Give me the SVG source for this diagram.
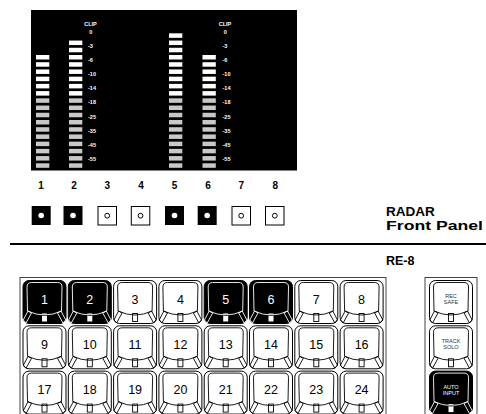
<svg xmlns="http://www.w3.org/2000/svg" xmlns:xlink="http://www.w3.org/1999/xlink" width="486" height="414" viewBox="0 0 486 414">
<style>
.seg-w{fill:#ffffff}
.seg-g{fill:#c8c8c8}
.ml{font-family:"Liberation Sans",Arial,sans-serif;font-size:5.5px;font-weight:bold;fill:#ffffff}
.num{font-family:"Liberation Sans",Arial,sans-serif;font-size:10px;font-weight:bold;fill:#000;text-anchor:middle}
.title{font-family:"Liberation Sans",Arial,sans-serif;font-size:13.5px;font-weight:bold;fill:#000}
.kl{font-family:"Liberation Sans",Arial,sans-serif;font-size:12.5px;text-anchor:middle}
.kl-off{fill:#000}
.kl-on{fill:#fff}
.sl{font-family:"Liberation Sans",Arial,sans-serif;font-size:5.5px;text-anchor:middle}
.frame{fill:none;stroke:#444;stroke-width:1}
</style>
<defs>
<g id="keyOff">
<rect x="0.5" y="0.5" width="43" height="43" rx="6" fill="#fff" stroke="#000" stroke-width="1"/>
<path d="M5,31 L4.5,7 Q4.5,2.5 9,2.5 L35,2.5 Q39.5,2.5 39.5,7 L39,31 Q22,39 5,31 Z" fill="none" stroke="#000" stroke-width="0.9"/>
<path d="M5.5,31 L9,33 L3.5,43 L0.8,40 Z M38.5,31 L35,33 L40.5,43 L43.2,40 Z" fill="none" stroke="#000" stroke-width="0.9"/>
<rect x="19.5" y="33.5" width="5" height="8" fill="none" stroke="#000" stroke-width="0.9"/>
</g>
<g id="keyOn">
<rect x="0.5" y="0.5" width="43" height="43" rx="6" fill="#000" stroke="#000" stroke-width="1"/>
<path d="M5,31 L4.5,7 Q4.5,2.5 9,2.5 L35,2.5 Q39.5,2.5 39.5,7 L39,31 Q22,39 5,31 Z" fill="none" stroke="#fff" stroke-width="0.9"/>
<path d="M5.5,31 L9,33 L3.5,43 L0.8,40 Z M38.5,31 L35,33 L40.5,43 L43.2,40 Z" fill="none" stroke="#fff" stroke-width="0.9"/>
<rect x="19.5" y="33.5" width="5" height="8" fill="#fff"/>
<line x1="19.5" y1="35.3" x2="24.5" y2="35.3" stroke="#000" stroke-width="0.9"/>
</g>
<g id="segs16">
<rect class="seg-g" x="0" y="163.3" width="13.3" height="4.5"/>
<rect class="seg-g" x="0" y="156.08" width="13.3" height="4.5"/>
<rect class="seg-g" x="0" y="148.86" width="13.3" height="4.5"/>
<rect class="seg-g" x="0" y="141.64" width="13.3" height="4.5"/>
<rect class="seg-g" x="0" y="134.42" width="13.3" height="4.5"/>
<rect class="seg-g" x="0" y="127.2" width="13.3" height="4.5"/>
<rect class="seg-g" x="0" y="119.98" width="13.3" height="4.5"/>
<rect class="seg-g" x="0" y="112.76" width="13.3" height="4.5"/>
<rect class="seg-g" x="0" y="105.54" width="13.3" height="4.5"/>
<rect class="seg-g" x="0" y="98.32" width="13.3" height="4.5"/>
<rect class="seg-w" x="0" y="91.1" width="13.3" height="4.5"/>
<rect class="seg-w" x="0" y="83.88" width="13.3" height="4.5"/>
<rect class="seg-w" x="0" y="76.66" width="13.3" height="4.5"/>
<rect class="seg-w" x="0" y="69.44" width="13.3" height="4.5"/>
<rect class="seg-w" x="0" y="62.22" width="13.3" height="4.5"/>
<rect class="seg-w" x="0" y="55" width="13.3" height="4.5"/>
</g>
<g id="scale">
<text class="ml" x="2.5" y="25.9" text-anchor="middle">CLIP</text>
<text class="ml" x="2.7" y="33.6" text-anchor="middle">0</text>
<text class="ml" x="0" y="47.6">-3</text>
<text class="ml" x="0" y="61.9">-6</text>
<text class="ml" x="0" y="75.9">-10</text>
<text class="ml" x="0" y="90.2">-14</text>
<text class="ml" x="0" y="104.2">-18</text>
<text class="ml" x="0" y="118.6">-25</text>
<text class="ml" x="0" y="132.6">-35</text>
<text class="ml" x="0" y="146.9">-45</text>
<text class="ml" x="0" y="160.9">-55</text>
</g>
</defs>

<g id="meter-panel">
<rect x="31" y="10" width="266" height="160.5" fill="#000"/>
<g id="meter-1"><use xlink:href="#segs16" x="36"/></g>
<g id="meter-2"><use xlink:href="#segs16" x="69"/>
<rect class="seg-w" x="69" y="47.78" width="13.3" height="4.5"/>
<rect class="seg-w" x="69" y="40.56" width="13.3" height="4.5"/></g>
<g id="scale-a"><use xlink:href="#scale" x="88"/></g>
<g id="meter-5"><use xlink:href="#segs16" x="169"/>
<rect class="seg-w" x="169" y="47.78" width="13.3" height="4.5"/>
<rect class="seg-w" x="169" y="40.56" width="13.3" height="4.5"/>
<rect class="seg-w" x="169" y="33.34" width="13.3" height="4.5"/></g>
<g id="meter-6"><use xlink:href="#segs16" x="202.5"/></g>
<g id="scale-b"><use xlink:href="#scale" x="222.5"/></g>
</g>

<g id="channel-numbers">
<text class="num" x="41" y="189">1</text>
<text class="num" x="74" y="189">2</text>
<text class="num" x="107.3" y="189">3</text>
<text class="num" x="141" y="189">4</text>
<text class="num" x="174.5" y="189">5</text>
<text class="num" x="208" y="189">6</text>
<text class="num" x="241.3" y="189">7</text>
<text class="num" x="275.3" y="189">8</text>
</g>

<g id="leds">
<g id="led-1"><rect x="31.7" y="206" width="19" height="19" fill="#000"/><circle cx="41.2" cy="215.5" r="2.8" fill="#fff"/></g>
<g id="led-2"><rect x="63.5" y="206" width="19" height="19" fill="#000"/><circle cx="73" cy="215.5" r="2.8" fill="#fff"/></g>
<g id="led-3"><rect x="98" y="206.5" width="18.5" height="18.5" fill="#fff" stroke="#000"/><circle cx="107.2" cy="215.7" r="2.4" fill="none" stroke="#000"/></g>
<g id="led-4"><rect x="131.3" y="206.5" width="18.5" height="18.5" fill="#fff" stroke="#000"/><circle cx="140.5" cy="215.7" r="2.4" fill="none" stroke="#000"/></g>
<g id="led-5"><rect x="165" y="206" width="19" height="19" fill="#000"/><circle cx="174.5" cy="215.5" r="2.8" fill="#fff"/></g>
<g id="led-6"><rect x="197.7" y="206" width="19" height="19" fill="#000"/><circle cx="207.2" cy="215.5" r="2.8" fill="#fff"/></g>
<g id="led-7"><rect x="232" y="206.5" width="18.5" height="18.5" fill="#fff" stroke="#000"/><circle cx="241.2" cy="215.7" r="2.4" fill="none" stroke="#000"/></g>
<g id="led-8"><rect x="265.5" y="206.5" width="18.5" height="18.5" fill="#fff" stroke="#000"/><circle cx="274.8" cy="215.7" r="2.4" fill="none" stroke="#000"/></g>
</g>

<g id="titles">
<text class="title" x="386" y="215.5">RADAR</text>
<text class="title" x="386" y="229.5" textLength="97" lengthAdjust="spacingAndGlyphs">Front Panel</text>
<line x1="10" y1="244" x2="486" y2="244" stroke="#000" stroke-width="2"/>
<text class="title" x="386" y="265" style="font-size:12.5px">RE-8</text>
</g>

<g id="keypad">
<rect class="frame" x="20" y="277.5" width="366" height="140"/>
<g id="k1"><use xlink:href="#keyOn" x="22.5" y="280"/><text class="kl kl-on" x="44.5" y="303.5">1</text></g>
<g id="k2"><use xlink:href="#keyOn" x="67.8" y="280"/><text class="kl kl-on" x="89.8" y="303.5">2</text></g>
<g id="k3"><use xlink:href="#keyOff" x="113.1" y="280"/><text class="kl kl-off" x="135.1" y="303.5">3</text></g>
<g id="k4"><use xlink:href="#keyOff" x="158.4" y="280"/><text class="kl kl-off" x="180.4" y="303.5">4</text></g>
<g id="k5"><use xlink:href="#keyOn" x="203.7" y="280"/><text class="kl kl-on" x="225.7" y="303.5">5</text></g>
<g id="k6"><use xlink:href="#keyOn" x="249" y="280"/><text class="kl kl-on" x="271" y="303.5">6</text></g>
<g id="k7"><use xlink:href="#keyOff" x="294.3" y="280"/><text class="kl kl-off" x="316.3" y="303.5">7</text></g>
<g id="k8"><use xlink:href="#keyOff" x="339.6" y="280"/><text class="kl kl-off" x="361.6" y="303.5">8</text></g>
<g id="k9"><use xlink:href="#keyOff" x="22.5" y="325.3"/><text class="kl kl-off" x="44.5" y="348.8">9</text></g>
<g id="k10"><use xlink:href="#keyOff" x="67.8" y="325.3"/><text class="kl kl-off" x="89.8" y="348.8">10</text></g>
<g id="k11"><use xlink:href="#keyOff" x="113.1" y="325.3"/><text class="kl kl-off" x="135.1" y="348.8">11</text></g>
<g id="k12"><use xlink:href="#keyOff" x="158.4" y="325.3"/><text class="kl kl-off" x="180.4" y="348.8">12</text></g>
<g id="k13"><use xlink:href="#keyOff" x="203.7" y="325.3"/><text class="kl kl-off" x="225.7" y="348.8">13</text></g>
<g id="k14"><use xlink:href="#keyOff" x="249" y="325.3"/><text class="kl kl-off" x="271" y="348.8">14</text></g>
<g id="k15"><use xlink:href="#keyOff" x="294.3" y="325.3"/><text class="kl kl-off" x="316.3" y="348.8">15</text></g>
<g id="k16"><use xlink:href="#keyOff" x="339.6" y="325.3"/><text class="kl kl-off" x="361.6" y="348.8">16</text></g>
<g id="k17"><use xlink:href="#keyOff" x="22.5" y="370.6"/><text class="kl kl-off" x="44.5" y="394.1">17</text></g>
<g id="k18"><use xlink:href="#keyOff" x="67.8" y="370.6"/><text class="kl kl-off" x="89.8" y="394.1">18</text></g>
<g id="k19"><use xlink:href="#keyOff" x="113.1" y="370.6"/><text class="kl kl-off" x="135.1" y="394.1">19</text></g>
<g id="k20"><use xlink:href="#keyOff" x="158.4" y="370.6"/><text class="kl kl-off" x="180.4" y="394.1">20</text></g>
<g id="k21"><use xlink:href="#keyOff" x="203.7" y="370.6"/><text class="kl kl-off" x="225.7" y="394.1">21</text></g>
<g id="k22"><use xlink:href="#keyOff" x="249" y="370.6"/><text class="kl kl-off" x="271" y="394.1">22</text></g>
<g id="k23"><use xlink:href="#keyOff" x="294.3" y="370.6"/><text class="kl kl-off" x="316.3" y="394.1">23</text></g>
<g id="k24"><use xlink:href="#keyOff" x="339.6" y="370.6"/><text class="kl kl-off" x="361.6" y="394.1">24</text></g>
</g>

<g id="function-keys">
<rect class="frame" x="425" y="277.5" width="52" height="140"/>
<g id="rec-safe"><use xlink:href="#keyOff" x="429" y="280"/>
<text class="sl" x="451" y="298.3" fill="#333">REC</text><text class="sl" x="451" y="304.3" fill="#333">SAFE</text></g>
<g id="track-solo"><use xlink:href="#keyOff" x="429" y="325.3"/>
<text class="sl" x="451" y="343.3" fill="#333">TRACK</text><text class="sl" x="451" y="349.3" fill="#333">SOLO</text></g>
<g id="auto-input"><use xlink:href="#keyOn" x="429" y="370.6"/>
<text class="sl" x="451" y="388.5" fill="#fff">AUTO</text><text class="sl" x="451" y="394.5" fill="#fff">INPUT</text></g>
</g>
</svg>
